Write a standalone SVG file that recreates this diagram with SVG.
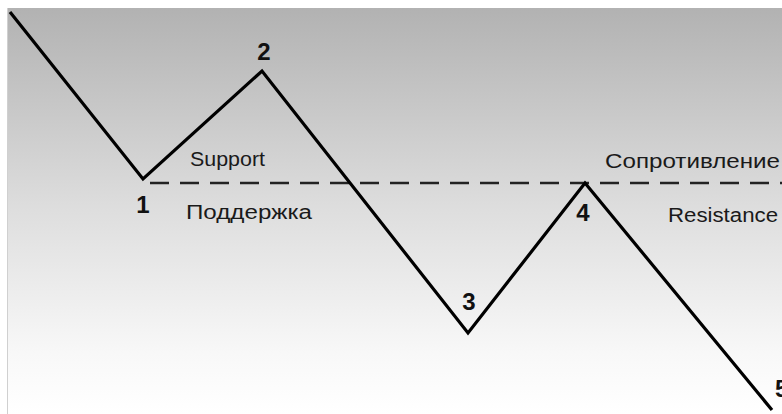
<svg xmlns="http://www.w3.org/2000/svg" width="782" height="414" viewBox="0 0 782 414">
<defs>
<linearGradient id="bg" x1="0" y1="0" x2="0" y2="1">
<stop offset="0" stop-color="#b2b2b2"/>
<stop offset="0.5" stop-color="#dedede"/>
<stop offset="0.85" stop-color="#f8f8f8"/>
<stop offset="1" stop-color="#ffffff"/>
</linearGradient>
<style>
.lbl{font-family:"Liberation Sans",Arial,sans-serif;font-size:19.5px;fill:#1a1a1a}
.num{font-family:"Liberation Sans",Arial,sans-serif;font-size:24px;font-weight:bold;fill:#111;text-anchor:middle}
.wave{fill:none;stroke:#000;stroke-width:3.2;stroke-linejoin:miter}
.level{fill:none;stroke:#222;stroke-width:2.5;stroke-dasharray:19 11}
</style>
</defs>
<rect width="782" height="414" fill="#ffffff"/>
<rect x="7" y="8" width="775" height="406" fill="url(#bg)"/>
<line x1="7.5" y1="8" x2="7.5" y2="414" stroke="#d0d0d0" stroke-width="1"/>
<g id="connectors">
<line class="level" x1="150" y1="183" x2="782" y2="183"/>
<polyline class="wave" points="10,12 143,179 262,71 468,333 585,183 772,410"/>
</g>
<g id="p1"><text class="num" x="143" y="213">1</text></g>
<g id="p2"><text class="num" x="264" y="60">2</text></g>
<g id="p3"><text class="num" x="469" y="310">3</text></g>
<g id="p4"><text class="num" x="583" y="221">4</text></g>
<g id="p5"><text class="num" x="775" y="397" style="text-anchor:start">5</text></g>
<g id="support"><text class="lbl" x="190" y="166" textLength="75" lengthAdjust="spacingAndGlyphs">Support</text></g>
<g id="support-ru"><text class="lbl" x="186" y="219" textLength="126" lengthAdjust="spacingAndGlyphs">Поддержка</text></g>
<g id="resistance-ru"><text class="lbl" x="605" y="168" textLength="175" lengthAdjust="spacingAndGlyphs">Сопротивление</text></g>
<g id="resistance"><text class="lbl" x="668" y="222" textLength="110" lengthAdjust="spacingAndGlyphs">Resistance</text></g>
</svg>
